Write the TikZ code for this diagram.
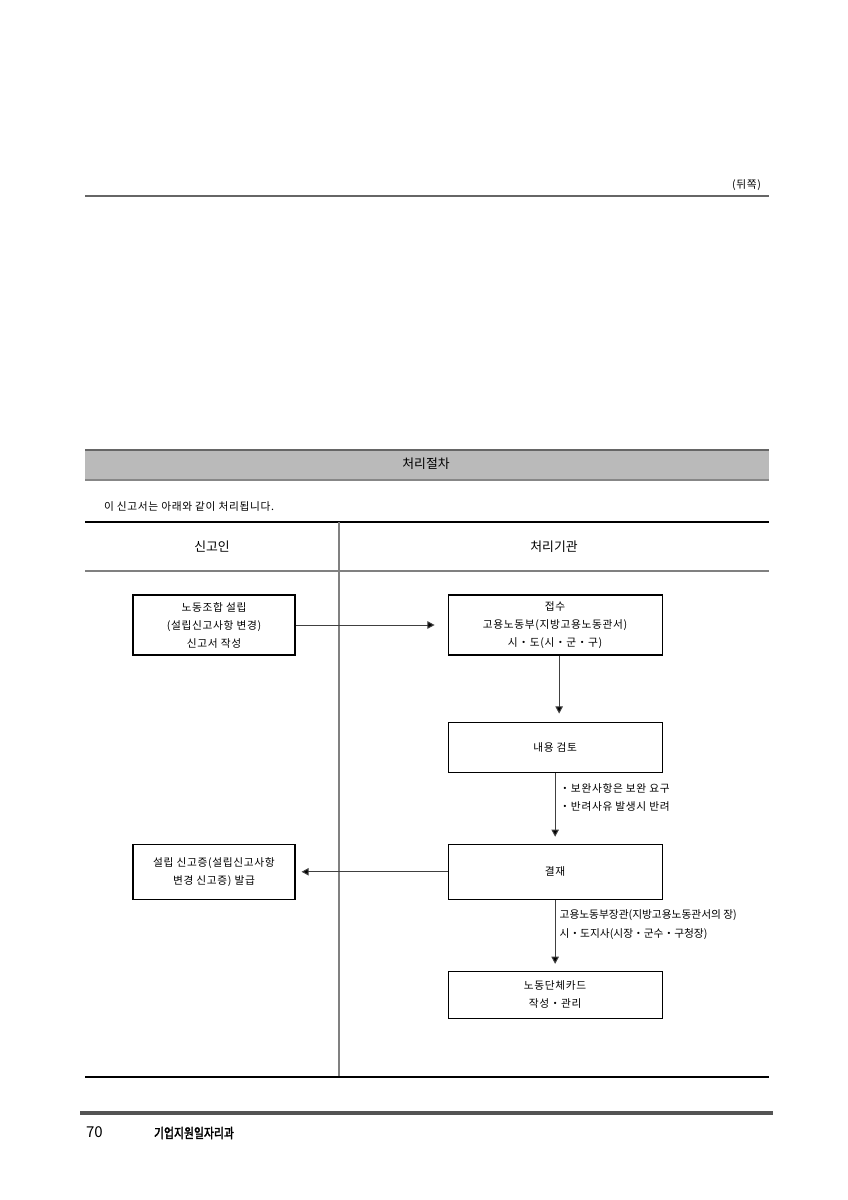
\documentclass[tikz,border=0pt]{standalone}
\usepackage{fontspec}
\setmainfont{Noto Sans CJK KR}
\newfontfamily\kr[LetterSpace=6]{Noto Sans CJK KR}
\newfontfamily\deptfont[FakeBold=2,FakeStretch=0.8]{Noto Sans CJK KR}
\usetikzlibrary{positioning, arrows.meta}

\tikzset{
  proc/.style={draw, line width=0.8pt, align=center, inner sep=0pt,
    font=\kr\fontsize{7.5}{12.6}\selectfont, minimum width=149.8pt, minimum height=42pt},
  narrow/.style={proc, minimum width=113.4pt},
  note/.style={anchor=west, align=left, inner sep=0pt, xshift=2.8pt},
  head/.style={font=\fontsize{9}{11}\selectfont},
  flow/.style={draw=black!75, line width=0.7pt, -{Triangle[width=5.2pt,length=5pt,fill=black]}},
  rule/.style={line width=0.9pt}
}

\begin{document}
\begin{tikzpicture}[x=0.7pt, y=-0.7pt, node distance=46.2pt and 106.4pt]
  \useasboundingbox (0,0) rectangle (848,1200);
  \node[anchor=east, font=\kr\fontsize{7.5}{9}\selectfont] (side) at (766,185) {(뒤쪽)};
  \draw[line width=2pt, black!60] (85,196) -- (769,196);
  \fill[black!27] (85,450) rectangle (769,480);
  \draw[line width=1.6pt, black!60] (85,450) -- (769,450);
  \draw[line width=1pt, black!47] (85,480) -- (769,480);
  \node[head] (title) at (426,464) {처리절차};
  \node[anchor=west, font=\kr\fontsize{7.5}{9}\selectfont] (intro) at (99,506) {이 신고서는 아래와 같이 처리됩니다.};
  \draw[rule] (85,522) -- (769,522);
  \draw[line width=1pt, black!50] (85,571) -- (769,571);
  \draw[line width=1pt, black!50] (339,522) -- (339,1077);
  \draw[rule] (85,1077) -- (769,1077);
  \node[head] (who) at (212,547) {신고인};
  \node[head] (org) at (554,547) {처리기관};
  \node[narrow] (rep) at (214,625) {노동조합 설립\\(설립신고사항 변경)\\신고서 작성};
  \node[proc, right=of rep] (recv) {접수\\고용노동부(지방고용노동관서)\\시・도(시・군・구)};
  \node[proc, below=of recv, minimum height=35pt] (review) {내용 검토};
  \node[proc, below=49.7pt of review, minimum height=38.5pt] (sign) {결재};
  \node[narrow, left=of sign, minimum height=38.5pt] (issue) {설립 신고증(설립신고사항\\변경 신고증) 발급};
  \node[proc, below=49.7pt of sign, minimum height=32.9pt] (card) {노동단체카드\\작성・관리};
  \draw[flow, shorten >=9.1pt] (rep) -- (recv);
  \draw[flow, shorten >=5.6pt] ([xshift=2.8pt]recv.south) -- ([xshift=2.8pt]review.north);
  \draw[flow, shorten >=4.9pt] (review) -- node[note, pos=0.345, font=\kr\fontsize{7.5}{12.6}\selectfont] (fix) {・보완사항은 보완 요구\\・반려사유 발생시 반려} (sign);
  \draw[flow, shorten >=4.2pt] (sign) -- (issue);
  \draw[flow, shorten >=4.9pt] (sign) -- node[note, pos=0.345, font=\fontsize{7.5}{13.3}\selectfont] (who2) {고용노동부장관(지방고용노동관서의 장)\\시・도지사(시장・군수・구청장)} (card);
  \draw[line width=3pt, black!67] (80,1113) -- (773,1113);
  \node[anchor=west, font=\fontsize{10.5}{12}\selectfont] (page) at (81,1132) {70};
  \node[anchor=west, font=\deptfont\fontsize{9.5}{11}\selectfont] (dept) at (149,1133) {기업지원일자리과};
\end{tikzpicture}
\end{document}
